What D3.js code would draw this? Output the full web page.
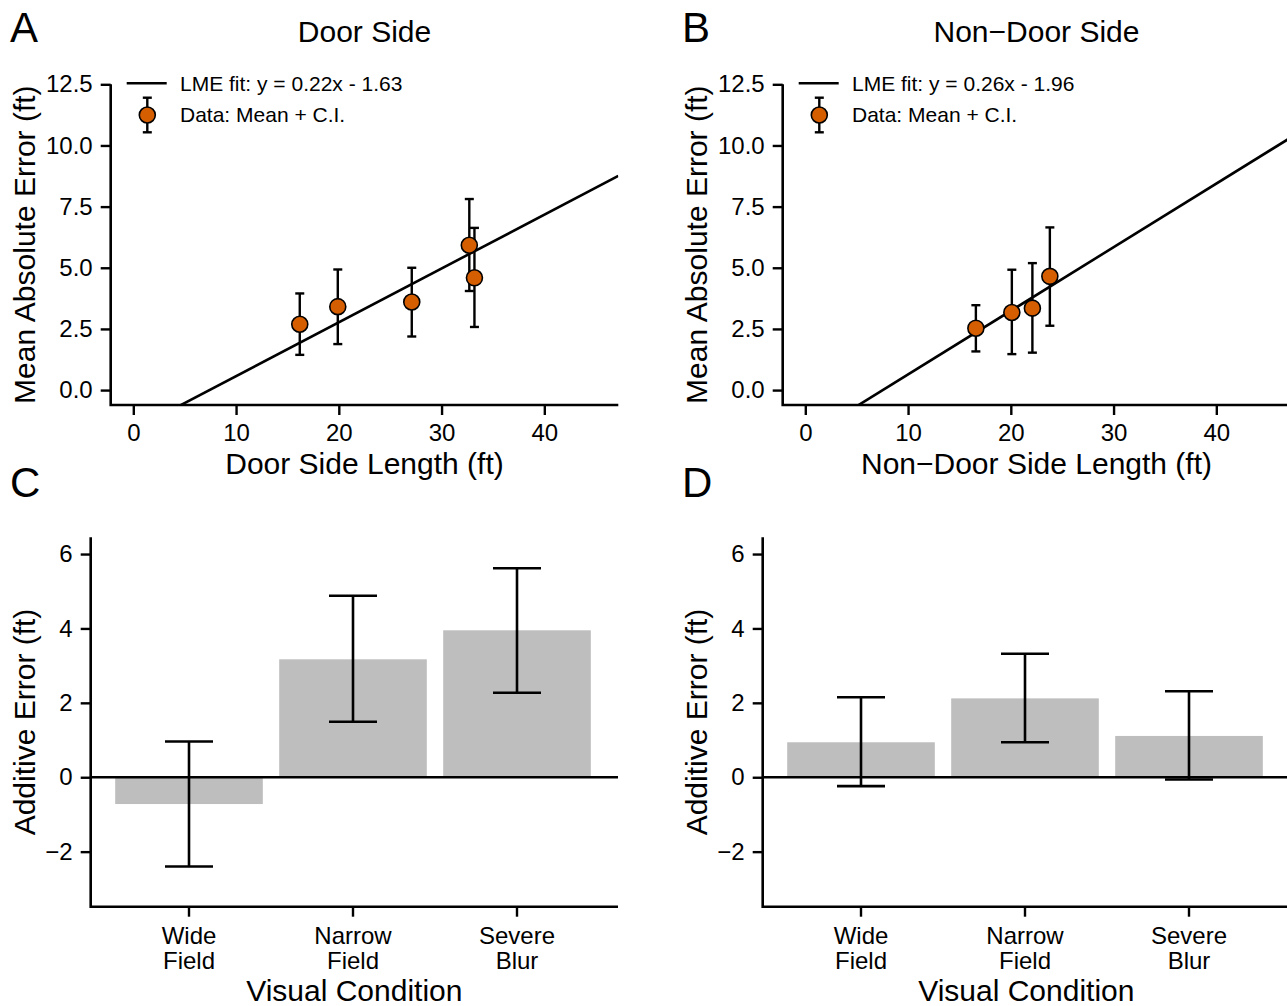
<!DOCTYPE html>
<html>
<head>
<meta charset="utf-8">
<script src="https://cdn.jsdelivr.net/npm/d3@7"></script>
<style>
  body { margin: 0; background: #fff; }
  svg text { font-family: "Liberation Sans", Arial, Helvetica, sans-serif; fill: #000; }
</style>
</head>
<body>
<div id="chart"></div>
<script>
// scatter data (mean + C.I.)
const doorX = [16.2, 19.9, 27.1, 32.7, 33.2];
const doorMean = [2.69, 3.41, 3.60, 5.92, 4.59];
const doorLo = [1.44, 1.88, 2.19, 4.05, 2.58];
const doorHi = [3.95, 4.93, 5.00, 7.81, 6.63];

const nonDoorX = [16.6, 20.1, 22.1, 23.8];
const nonDoorMean = [2.53, 3.17, 3.35, 4.65];
const nonDoorLo = [1.58, 1.47, 1.53, 2.63];
const nonDoorHi = [3.47, 4.92, 5.19, 6.65];

// LME fits
const fitSlope = [0.22, 0.26];
const fitIntercept = [-1.63, -1.96];
const fitLabels = ["LME fit: y = 0.22x - 1.63", "LME fit: y = 0.26x - 1.96"];

// bar data
const conditions = [["Wide", "Field"], ["Narrow", "Field"], ["Severe", "Blur"]];
const doorBar = [-0.72, 3.17, 3.95];
const doorBarLo = [-2.40, 1.49, 2.27];
const doorBarHi = [0.96, 4.88, 5.62];
const nonDoorBar = [0.94, 2.12, 1.11];
const nonDoorBarLo = [-0.24, 0.94, -0.06];
const nonDoorBarHi = [2.15, 3.32, 2.31];

const xTicksTop = [0, 10, 20, 30, 40];
const yTicksTop = [0, 2.5, 5, 7.5, 10, 12.5];
const yTicksBottom = [-2, 0, 2, 4, 6];

const W = 1287, H = 1006;
const svg = d3.select("#chart").append("svg")
    .attr("width", W)
    .attr("height", H);

const ORANGE = "#D55E00";
const colOffset = 672;

function styleAxis(g, size) {
    g.select(".domain").remove();
    g.selectAll(".tick line").attr("stroke", "#000").attr("stroke-width", 2.4);
    g.selectAll(".tick text").style("font-size", size + "px");
}

function panelLetter(letter, x, y) {
    svg.append("text")
        .attr("x", x).attr("y", y)
        .style("font-size", "42px")
        .text(letter);
}

function drawScatter(off, xs, means, los, his, k, title, xTitle, letter) {
    let left = 110.7 + off, right = 618.3 + off;
    let top = 84.3, bottom = 405;

    let x = d3.scaleLinear().domain([-2.2, 47.2]).range([left, right]);
    let y = d3.scaleLinear().domain([-0.61, 12.5]).range([bottom, top]);

    let g = svg.append("g");

    let clipId = "clip" + letter;
    svg.append("clipPath").attr("id", clipId)
        .append("rect")
        .attr("x", left).attr("y", top - 40)
        .attr("width", right - left).attr("height", bottom - top + 40);

    // fit line
    let xd = x.domain();
    g.append("line")
        .attr("clip-path", "url(#" + clipId + ")")
        .attr("x1", x(xd[0])).attr("y1", y(fitSlope[k] * xd[0] + fitIntercept[k]))
        .attr("x2", x(xd[1])).attr("y2", y(fitSlope[k] * xd[1] + fitIntercept[k]))
        .attr("stroke", "#000").attr("stroke-width", 2.6);

    // axes
    let ax = g.append("g")
        .attr("transform", `translate(0,${bottom})`)
        .call(d3.axisBottom(x).tickValues(xTicksTop).tickSize(10).tickPadding(9));
    styleAxis(ax, 24);

    let ay = g.append("g")
        .attr("transform", `translate(${left},0)`)
        .call(d3.axisLeft(y).tickValues(yTicksTop).tickFormat(d3.format(".1f")).tickSize(10).tickPadding(8));
    styleAxis(ay, 24);

    g.append("path")
        .attr("d", `M${left},${y(12.5)}V${bottom}H${right}`)
        .attr("fill", "none").attr("stroke", "#000").attr("stroke-width", 2.6);

    // error bars + points
    let pts = xs.map((d, i) => ({x: d, m: means[i], lo: los[i], hi: his[i]}));
    let eb = g.selectAll(".eb").data(pts).enter().append("g").attr("class", "eb");
    eb.append("line")
        .attr("x1", d => x(d.x)).attr("x2", d => x(d.x))
        .attr("y1", d => y(d.lo)).attr("y2", d => y(d.hi));
    eb.append("line")
        .attr("x1", d => x(d.x) - 4.5).attr("x2", d => x(d.x) + 4.5)
        .attr("y1", d => y(d.lo)).attr("y2", d => y(d.lo));
    eb.append("line")
        .attr("x1", d => x(d.x) - 4.5).attr("x2", d => x(d.x) + 4.5)
        .attr("y1", d => y(d.hi)).attr("y2", d => y(d.hi));
    eb.selectAll("line").attr("stroke", "#000").attr("stroke-width", 2.4);

    g.selectAll(".pt").data(pts).enter().append("circle")
        .attr("class", "pt")
        .attr("cx", d => x(d.x)).attr("cy", d => y(d.m))
        .attr("r", 8)
        .attr("fill", ORANGE).attr("stroke", "#000").attr("stroke-width", 1.6);

    // legend
    let lg = g.append("g");
    lg.append("line")
        .attr("x1", 126.7 + off).attr("x2", 166.7 + off)
        .attr("y1", 83.3).attr("y2", 83.3)
        .attr("stroke", "#000").attr("stroke-width", 2.6);
    lg.append("text")
        .attr("x", 180 + off).attr("y", 83.3).attr("dy", "0.35em")
        .style("font-size", "21px")
        .text(fitLabels[k]);
    let lx = 147.3 + off;
    lg.append("line").attr("x1", lx).attr("x2", lx).attr("y1", 97.7).attr("y2", 132.3);
    lg.append("line").attr("x1", lx - 4.5).attr("x2", lx + 4.5).attr("y1", 97.7).attr("y2", 97.7);
    lg.append("line").attr("x1", lx - 4.5).attr("x2", lx + 4.5).attr("y1", 132.3).attr("y2", 132.3);
    lg.selectAll("line").filter((d, i) => i > 0).attr("stroke", "#000").attr("stroke-width", 2.4);
    lg.append("circle")
        .attr("cx", lx).attr("cy", 115).attr("r", 8)
        .attr("fill", ORANGE).attr("stroke", "#000").attr("stroke-width", 1.6);
    lg.append("text")
        .attr("x", 180 + off).attr("y", 115).attr("dy", "0.35em")
        .style("font-size", "21px")
        .text("Data: Mean + C.I.");

    // titles
    g.append("text")
        .attr("x", (left + right) / 2).attr("y", 42)
        .attr("text-anchor", "middle")
        .style("font-size", "30px")
        .text(title);
    g.append("text")
        .attr("x", (left + right) / 2).attr("y", 474)
        .attr("text-anchor", "middle")
        .style("font-size", "30px")
        .text(xTitle);
    g.append("text")
        .attr("transform", `translate(${35 + off},${(top + bottom) / 2}) rotate(-90)`)
        .attr("text-anchor", "middle")
        .style("font-size", "30px")
        .text("Mean Absolute Error (ft)");

    panelLetter(letter, 10 + off, 42);
}

function drawBars(off, vals, los, his, letter) {
    let left = 90.7 + off, right = 618 + off;
    let top = 537.3, bottom = 906.7;

    let x = d3.scaleBand()
        .domain(d3.range(conditions.length))
        .range([left + 16.3, left + 508.3])
        .paddingInner(0.1)
        .paddingOuter(0.05);
    let y = d3.scaleLinear().domain([-3.48, 6.45]).range([bottom, top]);

    let g = svg.append("g");
    let data = vals.map((v, i) => ({i: i, v: v, lo: los[i], hi: his[i]}));

    g.selectAll(".bar").data(data).enter().append("rect")
        .attr("class", "bar")
        .attr("x", d => x(d.i))
        .attr("width", x.bandwidth())
        .attr("y", d => y(Math.max(0, d.v)))
        .attr("height", d => Math.abs(y(d.v) - y(0)))
        .attr("fill", "#BEBEBE");

    // zero line
    g.append("line")
        .attr("x1", left).attr("x2", right)
        .attr("y1", y(0)).attr("y2", y(0))
        .attr("stroke", "#000").attr("stroke-width", 2.6);

    let cx = d => x(d.i) + x.bandwidth() / 2;
    let eb = g.selectAll(".eb").data(data).enter().append("g");
    eb.append("line").attr("x1", cx).attr("x2", cx)
        .attr("y1", d => y(d.lo)).attr("y2", d => y(d.hi));
    eb.append("line").attr("x1", d => cx(d) - 24).attr("x2", d => cx(d) + 24)
        .attr("y1", d => y(d.lo)).attr("y2", d => y(d.lo));
    eb.append("line").attr("x1", d => cx(d) - 24).attr("x2", d => cx(d) + 24)
        .attr("y1", d => y(d.hi)).attr("y2", d => y(d.hi));
    eb.selectAll("line").attr("stroke", "#000").attr("stroke-width", 2.6);

    // axes
    let ay = g.append("g")
        .attr("transform", `translate(${left},0)`)
        .call(d3.axisLeft(y).tickValues(yTicksBottom).tickSize(10).tickPadding(8));
    styleAxis(ay, 24);

    g.append("path")
        .attr("d", `M${left},${top}V${bottom}H${right}`)
        .attr("fill", "none").attr("stroke", "#000").attr("stroke-width", 2.6);

    let ticks = g.selectAll(".xt").data(data).enter().append("g")
        .attr("transform", d => `translate(${cx(d)},${bottom})`);
    ticks.append("line").attr("y1", 0).attr("y2", 10)
        .attr("stroke", "#000").attr("stroke-width", 2.4);
    let tt = ticks.append("text")
        .attr("text-anchor", "middle")
        .style("font-size", "24px");
    tt.append("tspan").attr("x", 0).attr("y", 37.3).text(d => conditions[d.i][0]);
    tt.append("tspan").attr("x", 0).attr("y", 62.6).text(d => conditions[d.i][1]);

    g.append("text")
        .attr("x", (left + right) / 2).attr("y", 1001)
        .attr("text-anchor", "middle")
        .style("font-size", "30px")
        .text("Visual Condition");
    g.append("text")
        .attr("transform", `translate(${35 + off},${(top + bottom) / 2}) rotate(-90)`)
        .attr("text-anchor", "middle")
        .style("font-size", "30px")
        .text("Additive Error (ft)");

    panelLetter(letter, 10 + off, 497);
}

drawScatter(0, doorX, doorMean, doorLo, doorHi, 0, "Door Side", "Door Side Length (ft)", "A");
drawScatter(colOffset, nonDoorX, nonDoorMean, nonDoorLo, nonDoorHi, 1, "Non\u2212Door Side", "Non\u2212Door Side Length (ft)", "B");
drawBars(0, doorBar, doorBarLo, doorBarHi, "C");
drawBars(colOffset, nonDoorBar, nonDoorBarLo, nonDoorBarHi, "D");
</script>
</body>
</html>
